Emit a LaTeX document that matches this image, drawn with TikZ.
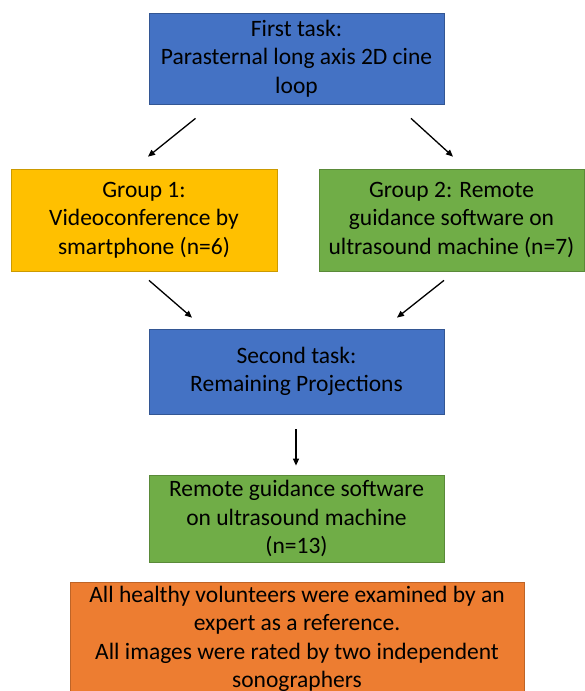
\documentclass[tikz,border=0pt]{standalone}
\usepackage{fontspec}
\setmainfont{Carlito}
\usetikzlibrary{arrows.meta}

\definecolor{taskblue}{HTML}{4472C4}
\definecolor{groupyellow}{HTML}{FFC000}
\definecolor{groupgreen}{HTML}{70AD47}
\definecolor{noteorange}{HTML}{ED7D31}

\tikzset{
    box/.style={draw, align=center, inner sep=0pt, line width=0.75pt,
        font=\fontsize{23.5}{28.5}\selectfont, text=black},
    task/.style={box, fill=taskblue, draw=taskblue!75!black,
        minimum width=295, minimum height=91},
    grouponebox/.style={box, fill=groupyellow, draw=groupyellow!80!black},
    grouptwobox/.style={box, fill=groupgreen, draw=groupgreen!80!black},
    note/.style={box, fill=noteorange, draw=noteorange!80!black},
    link/.style={-{Triangle[length=7pt,width=6pt]}, line width=1.3pt}
}

\begin{document}
\begin{tikzpicture}[x=1pt, y=-1pt]
    \useasboundingbox (0,0) rectangle (584,691);
    \node[task] (task1) at (296.5,58.5)
        {First task:\\Parasternal long axis 2D cine\\loop};
    \node[grouponebox, minimum width=266, minimum height=102] (group1) at (144,220)
        {Group 1:\\Videoconference by\\smartphone (n=6)};
    \node[grouptwobox, minimum width=265, minimum height=102] (group2) at (451.5,220)
        {Group 2: Remote\\guidance software on\\ultrasound machine (n=7)};
    \node[task, minimum height=85] (task2) at (296.5,371.5)
        {Second task:\\Remaining Projections};
    \node[grouptwobox, minimum width=295, minimum height=87] (remote) at (296.5,518.5)
        {Remote guidance software\\on ultrasound machine\\(n=13)};
    \node[note, minimum width=454, minimum height=114] (note) at (297,639)
        {All healthy volunteers were examined by an\\expert as a reference.\\All images were rated by two independent\\sonographers};
    \draw[link] ([shift={(-101,14)}]task1.south) -- ([shift={(4,-12)}]group1.north);
    \draw[link] ([shift={(114.5,14)}]task1.south) -- ([shift={(1.5,-12)}]group2.north);
    \draw[link] ([shift={(5,9)}]group1.south) -- ([shift={(-104.5,-11)}]task2.north);
    \draw[link] ([shift={(-7.5,9)}]group2.south) -- ([shift={(100.5,-11)}]task2.north);
    \draw[link] ([shift={(-0.5,15)}]task2.south) -- ([shift={(-0.5,-9)}]remote.north);
\end{tikzpicture}
\end{document}
